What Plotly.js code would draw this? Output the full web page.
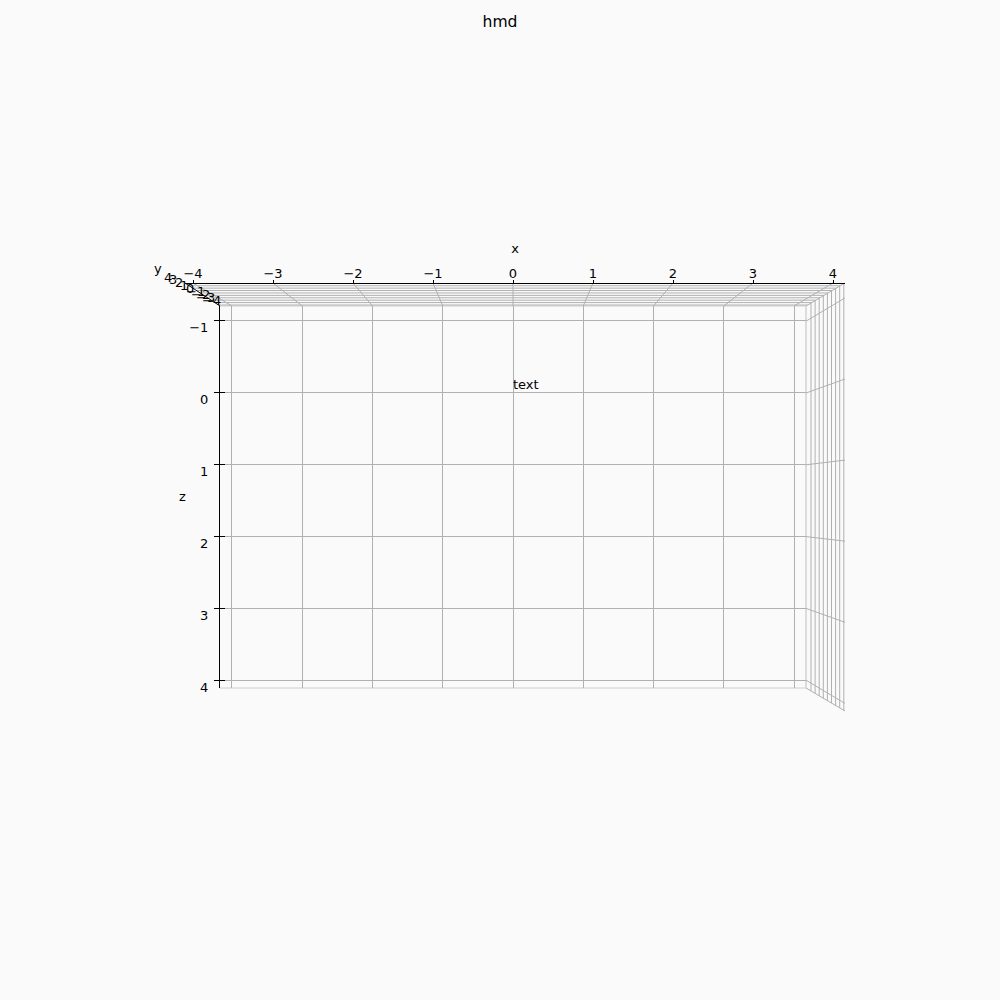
<!DOCTYPE html>
<html>
<head>
<meta charset="utf-8">
<script src="https://cdn.plot.ly/plotly-3.0.1.min.js"></script>
<style>html,body{margin:0;padding:0;background:#fafafa;}#chart{width:1000px;height:1000px;}</style>
</head>
<body>
<div id="chart"></div>
<script>
// ---- data ----
var xTicks = [-4, -3, -2, -1, 0, 1, 2, 3, 4];
var yTicks = [4, 3, 2, 1, 0, -1, -2, -3, -4];
var zTicks = [-1, 0, 1, 2, 3, 4];
var textX = [0];
var textZ = [0];
var textLabels = ['text'];
var titleText = 'hmd';

function lbl(v){ return v < 0 ? '\u2212' + Math.abs(v) : String(v); }

// ---- box geometry (pixels) ----
var FAR = {l:220, r:806, t:306, b:688};
var NEAR = {l:185, r:845, t:283, b:711};
function P(x, y){ return {x: x/1000, y: 1 - y/1000}; }
var shapes = [];
function seg(x0,y0,x1,y1,color,w){
  var a = P(x0,y0), b = P(x1,y1);
  shapes.push({type:'line', xref:'paper', yref:'paper', x0:a.x, y0:a.y, x1:b.x, y1:b.y,
    line:{color:color, width:w}, layer:'below'});
}
var GRID = '#b0b0b0', EDGE = '#dcdcdc';
// front pane edges
seg(FAR.l, FAR.b, FAR.r, FAR.b, EDGE, 1.5);
seg(FAR.r, FAR.t, FAR.r, FAR.b, EDGE, 2);
seg(FAR.l, FAR.t, FAR.r, FAR.t, EDGE, 1.5);
// top pane: x gridlines
xTicks.forEach(function(v){ seg(513 + 70.25*v, FAR.t, 513 + 80*v, NEAR.t, GRID, 1); });
// top pane: y gridlines
yTicks.forEach(function(v){
  var yy = 305 - (v + 4) * 2.41;
  var d = FAR.t - yy;
  seg(FAR.l - d*35/23, yy, FAR.r + d*39/23, yy, GRID, 1);
});
// right pane: y gridlines (vertical)
yTicks.forEach(function(v){
  var xx = 811 + (v + 4) * 4.1;
  var d = xx - FAR.r;
  seg(xx, FAR.t - d*23/39, xx, FAR.b + d*23/39, GRID, 1);
});
// right pane: z gridlines
zTicks.forEach(function(v){ seg(FAR.r, 393 + 71.8*v, NEAR.r, 379 + 81.1*v, GRID, 1); });
// right pane edges
seg(FAR.r, FAR.t, NEAR.r, NEAR.t, GRID, 1);
seg(FAR.r, FAR.b, NEAR.r, NEAR.b, GRID, 1);
// y axis line (top-left edge)
seg(FAR.l, FAR.t, NEAR.l, NEAR.t, '#000', 1);

// y tick labels + axis labels as annotations
var annotations = [];
yTicks.forEach(function(v, i){
  var p = P(168 + i*5.4, 277 + i*2.9);
  annotations.push({xref:'paper', yref:'paper', x:p.x, y:p.y, text:lbl(v), showarrow:false,
    xanchor:'center', yanchor:'middle', font:{size:13, color:'#000'}});
});
var pz = P(182, 496), py = P(158, 268);
annotations.push({xref:'paper', yref:'paper', x:pz.x, y:pz.y, text:'z', showarrow:false, xanchor:'center', yanchor:'middle', font:{size:13,color:'#000'}});
annotations.push({xref:'paper', yref:'paper', x:py.x, y:py.y, text:'y', showarrow:false, xanchor:'center', yanchor:'middle', font:{size:13,color:'#000'}});

var traces = [
  {x: textX, y: textZ, mode:'text', text: textLabels, textposition:'top right',
   textfont:{size:13, color:'#000', family:'DejaVu Sans'}, xaxis:'x', yaxis:'y', hoverinfo:'skip', showlegend:false, cliponaxis:false},
  {x: [], y: [], mode:'markers', xaxis:'x', yaxis:'y2', showlegend:false, hoverinfo:'skip'},
  {x: [], y: [], mode:'markers', xaxis:'x2', yaxis:'y3', showlegend:false, hoverinfo:'skip'}
];

var layout = {
  width:1000, height:1000,
  margin:{l:0, r:0, t:0, b:0},
  paper_bgcolor:'#fafafa', plot_bgcolor:'rgba(0,0,0,0)',
  font:{family:'DejaVu Sans', size:13, color:'#000'},
  showlegend:false,
  title:{text:titleText, x:0.5, xanchor:'center', y:0.978, yanchor:'middle', yref:'container', font:{size:15.6, color:'#000'}},
  xaxis:{domain:[0.220, 0.806], range:[-4.17, 4.17], tickvals:xTicks, showticklabels:false, ticks:'',
    showgrid:true, gridcolor:GRID, gridwidth:1, zeroline:false, showline:false, anchor:'y'},
  yaxis:{domain:[0.312, 0.694], range:[4.11, -1.2], tickvals:zTicks, ticktext:zTicks.map(lbl),
    showgrid:true, gridcolor:GRID, gridwidth:1, zeroline:false, showline:true, linecolor:'#000', linewidth:1,
    ticks:'inside', ticklen:5, tickcolor:'#000', tickwidth:1, ticklabelstandoff:8, ticklabelshift:-7, anchor:'x', side:'left'},
  yaxis2:{overlaying:'y', range:[4.11, -1.2], tickvals:zTicks, showticklabels:false, ticks:'outside', ticklen:5,
    tickcolor:'#000', showgrid:false, zeroline:false, showline:false, side:'left', anchor:'x'},
  yaxis3:{domain:[0.716, 0.718], visible:false, anchor:'x2', range:[0,1], showgrid:false, zeroline:false},
  xaxis2:{domain:[0.185, 0.845], range:[-4.1, 4.15], tickvals:xTicks, ticktext:xTicks.map(lbl), anchor:'free', position:0.717,
    side:'top', showline:true, linecolor:'#000', linewidth:1, ticks:'outside', ticklen:3, tickcolor:'#000',
    ticklabelstandoff:-3,
    showgrid:false, zeroline:false, title:{text:'x', standoff:8, font:{size:13,color:'#000'}}},
  shapes: shapes,
  annotations: annotations
};
Plotly.newPlot('chart', traces, layout, {staticPlot:true, displayModeBar:false});
</script>
</body>
</html>
